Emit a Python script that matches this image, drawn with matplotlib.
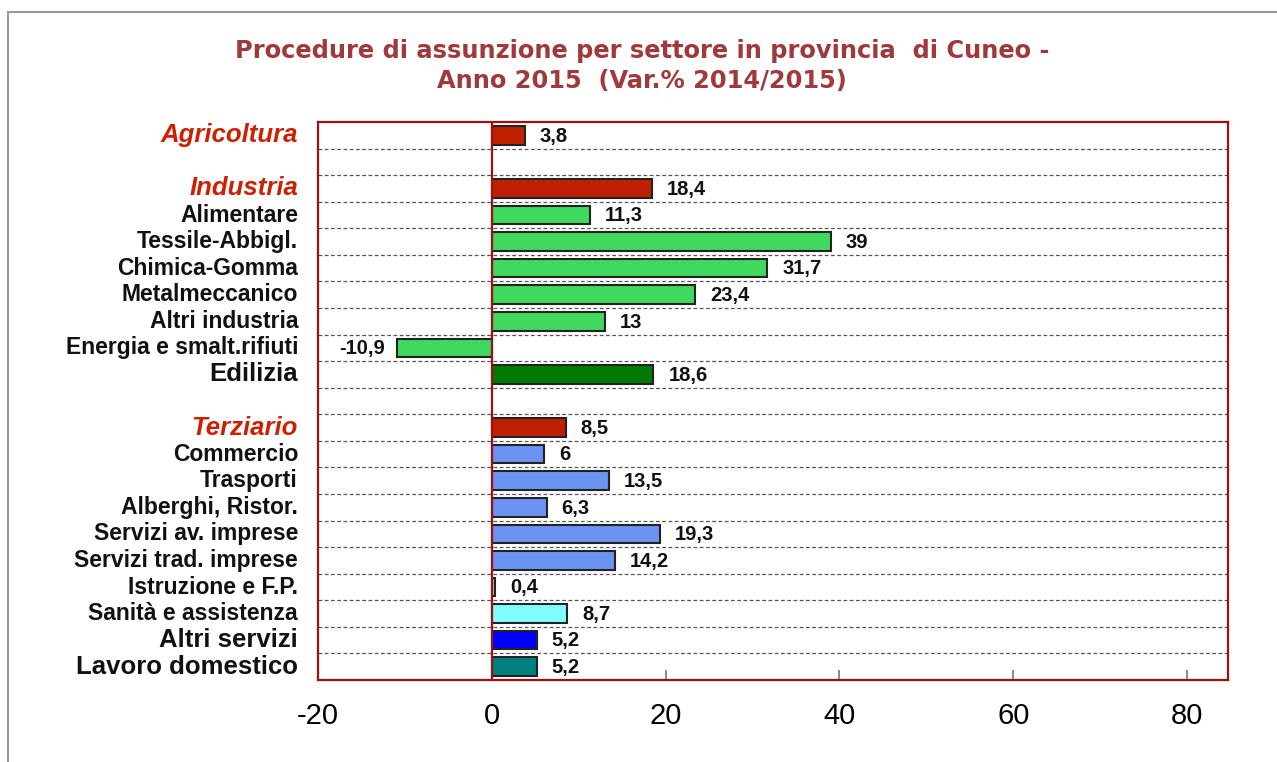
import matplotlib
matplotlib.use("Agg")
import matplotlib.pyplot as plt
import matplotlib.transforms as mtrans
from matplotlib.patches import Rectangle

categories = ["Agricoltura", "", "Industria", "Alimentare", "Tessile-Abbigl.", "Chimica-Gomma",
              "Metalmeccanico", "Altri industria", "Energia e smalt.rifiuti", "Edilizia", "",
              "Terziario", "Commercio", "Trasporti", "Alberghi, Ristor.", "Servizi av. imprese",
              "Servizi trad. imprese", "Istruzione e F.P.", "Sanità e assistenza", "Altri servizi",
              "Lavoro domestico"]
values = [3.8, None, 18.4, 11.3, 39, 31.7, 23.4, 13, -10.9, 18.6, None,
          8.5, 6, 13.5, 6.3, 19.3, 14.2, 0.4, 8.7, 5.2, 5.2]
value_labels = ["3,8", "", "18,4", "11,3", "39", "31,7", "23,4", "13", "-10,9", "18,6", "",
                "8,5", "6", "13,5", "6,3", "19,3", "14,2", "0,4", "8,7", "5,2", "5,2"]
xticks = [-20, 0, 20, 40, 60, 80]

RED = "#C02000"
GREEN = "#3FD95F"
DKGREEN = "#007A00"
BLUE = "#6A93F2"
colors = [RED, None, RED, GREEN, GREEN, GREEN, GREEN, GREEN, GREEN, DKGREEN, None,
          RED, BLUE, BLUE, BLUE, BLUE, BLUE, "#7FE0E0", "#80FFFF", "#0000FF", "#008080"]
sector_rows = {0, 2, 11}
big_rows = {9, 19, 20}

fig = plt.figure(figsize=(12.77, 7.62), dpi=100)
ax = fig.add_axes([318/1277, 1-680/762, (1228-318)/1277, (680-122)/762])

n = len(categories)
ys = list(range(n))
for y, v, c in zip(ys, values, colors):
    if v is None:
        continue
    ax.barh(y, v, height=0.7, color=c, edgecolor="#222222", linewidth=1.5, zorder=3)

for y, v, lab in zip(ys, values, value_labels):
    if v is None:
        continue
    if v >= 0:
        ax.text(v + 1.7, y + 0.03, lab, ha="left", va="center", fontsize=14.5, fontweight="bold",
                family="Liberation Sans", color="#111111", zorder=4)
    else:
        ax.text(v - 1.4, y + 0.03, lab, ha="right", va="center", fontsize=14.5, fontweight="bold",
                family="Liberation Sans", color="#111111", zorder=4)

for b in range(n - 1):
    ax.axhline(b + 0.5, color="#555555", linestyle=(0, (3, 2)), linewidth=0.9, zorder=1)

ax.axvline(0, color="#A01010", linewidth=1.6, zorder=5)

ax.set_xlim(-20, 84.7)
ax.set_ylim(n - 0.5, -0.5)
ax.set_yticks(ys)
ax.set_yticklabels([])
ax.tick_params(axis="y", length=0)

off = mtrans.ScaledTranslation(-20/100, 0, fig.dpi_scale_trans)
ytr = ax.get_yaxis_transform() + off
for y, lab in enumerate(categories):
    if not lab:
        continue
    if y in sector_rows:
        ax.text(0, y, lab, transform=ytr, ha="right", va="center",
                fontsize=18.5, fontweight="bold", style="italic", color="#CC2000",
                family="Liberation Sans")
    elif y in big_rows:
        ax.text(0, y, lab, transform=ytr, ha="right", va="center",
                fontsize=18.5, fontweight="bold", color="#111111", family="Liberation Sans")
    else:
        ax.text(0, y, lab, transform=ytr, ha="right", va="center",
                fontsize=16.5, fontweight="bold", color="#111111", family="Liberation Sans")

ax.set_xticks(xticks)
ax.set_xticklabels([str(t) for t in xticks], fontsize=21, family="Liberation Sans")
ax.tick_params(axis="x", direction="in", length=7, width=1.2, color="#777777", pad=16)
for s in ax.spines.values():
    s.set_color("#A01010")
    s.set_linewidth(1.6)

fig.text(642/1277, 1-51/762, "Procedure di assunzione per settore in provincia  di Cuneo -",
         ha="center", va="center", fontsize=17.4, fontweight="bold", color="#A0393B",
         family="DejaVu Sans")
fig.text(642/1277, 1-81/762, "Anno 2015  (Var.% 2014/2015)",
         ha="center", va="center", fontsize=17.4, fontweight="bold", color="#A0393B",
         family="DejaVu Sans")

fig.patches.append(Rectangle((8/1277, -0.05), 1.2, 1-12/762+0.05, transform=fig.transFigure,
                             fill=False, edgecolor="#999999", linewidth=1.5))

fig.savefig("out.png", dpi=100)
